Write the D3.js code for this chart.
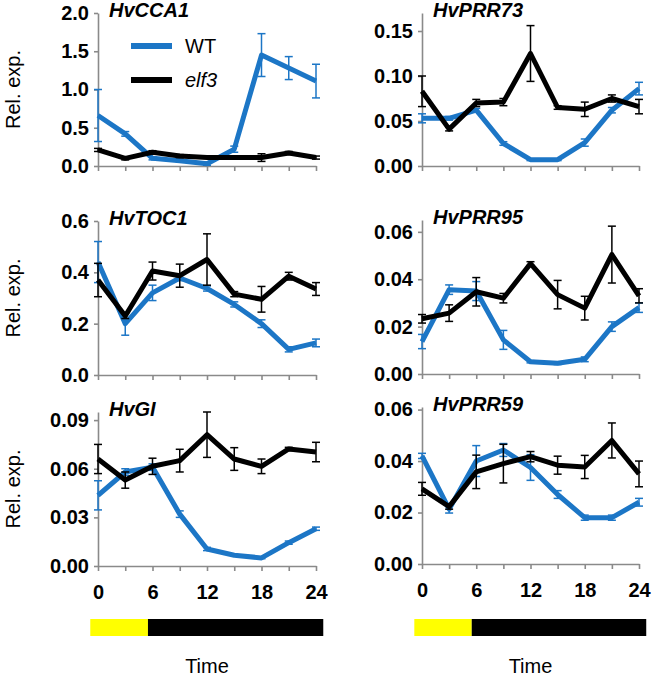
<!DOCTYPE html>
<html>
<head>
<meta charset="utf-8">
<script src="https://cdn.jsdelivr.net/npm/d3@7/dist/d3.min.js"></script>
<style>
  body { margin: 0; background: #fff; }
  text { font-family: "Liberation Sans", Arial, sans-serif; }
</style>
</head>
<body>
<div id="chart"></div>
<script>
// sampling times (h)
var hours = [0, 3, 6, 9, 12, 15, 18, 21, 24];
var hourLabels = [0, 6, 12, 18, 24];
var seriesNames = ["WT", "elf3"];

// light / dark phases (h)
var phaseStart = [-0.85, 5.5];
var phaseEnd = [5.5, 24.8];
var phaseNames = ["light", "dark"];

// HvCCA1
var cca1WT = [0.66, 0.42, 0.10, 0.07, 0.03, 0.22, 1.45, 1.28, 1.11];
var cca1WTErr = [0.34, 0.03, 0.02, 0.02, 0.02, 0.04, 0.28, 0.15, 0.22];
var cca1Elf3 = [0.21, 0.10, 0.18, 0.13, 0.11, 0.11, 0.11, 0.17, 0.11];
var cca1Elf3Err = [0.02, 0.02, 0.02, 0.02, 0.01, 0.01, 0.05, 0.02, 0.02];
var cca1Ticks = [0, 0.5, 1.0, 1.5, 2.0];

// HvPRR73
var prr73WT = [0.053, 0.053, 0.062, 0.025, 0.007, 0.007, 0.026, 0.062, 0.086];
var prr73WTErr = [0.005, 0.002, 0.002, 0.002, 0.001, 0.001, 0.004, 0.003, 0.007];
var prr73Elf3 = [0.083, 0.041, 0.070, 0.071, 0.125, 0.065, 0.063, 0.075, 0.066];
var prr73Elf3Err = [0.017, 0.002, 0.004, 0.004, 0.031, 0.002, 0.008, 0.004, 0.008];
var prr73Ticks = [0, 0.05, 0.10, 0.15];

// HvTOC1
var toc1WT = [0.44, 0.20, 0.32, 0.378, 0.337, 0.275, 0.20, 0.10, 0.125];
var toc1WTErr = [0.08, 0.045, 0.03, 0.01, 0.01, 0.01, 0.015, 0.01, 0.015];
var toc1Elf3 = [0.37, 0.23, 0.405, 0.387, 0.45, 0.315, 0.295, 0.385, 0.335];
var toc1Elf3Err = [0.065, 0.01, 0.035, 0.045, 0.10, 0.01, 0.05, 0.015, 0.025];
var toc1Ticks = [0, 0.2, 0.4, 0.6];

// HvPRR95
var prr95WT = [0.0137, 0.0356, 0.035, 0.0144, 0.0052, 0.0045, 0.0062, 0.020, 0.028];
var prr95WTErr = [0.003, 0.002, 0.004, 0.004, 0.0005, 0.0005, 0.001, 0.002, 0.002];
var prr95Elf3 = [0.0233, 0.0257, 0.0347, 0.032, 0.0466, 0.0335, 0.0278, 0.0504, 0.033];
var prr95Elf3Err = [0.0018, 0.0035, 0.006, 0.002, 0.0008, 0.006, 0.005, 0.012, 0.003];
var prr95Ticks = [0, 0.02, 0.04, 0.06];

// HvGI
var giWT = [0.0436, 0.058, 0.061, 0.032, 0.0105, 0.0066, 0.005, 0.0144, 0.023];
var giWTErr = [0.009, 0.002, 0.002, 0.002, 0.001, 0.0005, 0.0005, 0.001, 0.001];
var giElf3 = [0.066, 0.053, 0.0615, 0.065, 0.081, 0.066, 0.0615, 0.0722, 0.0703];
var giElf3Err = [0.009, 0.005, 0.005, 0.007, 0.014, 0.007, 0.0045, 0.001, 0.006];
var giTicks = [0, 0.03, 0.06, 0.09];

// HvPRR59
var prr59WT = [0.042, 0.0213, 0.040, 0.0443, 0.0375, 0.027, 0.018, 0.018, 0.024];
var prr59WTErr = [0.001, 0.0015, 0.006, 0.0025, 0.005, 0.0015, 0.001, 0.001, 0.0015];
var prr59Elf3 = [0.0292, 0.0223, 0.0358, 0.039, 0.0417, 0.0384, 0.0377, 0.048, 0.035];
var prr59Elf3Err = [0.0025, 0.001, 0.0065, 0.0075, 0.002, 0.0035, 0.0045, 0.0068, 0.005];
var prr59Ticks = [0, 0.02, 0.04, 0.06];

// panel setup: data + where each one sits on the page
var panels = [
  { gene: "HvCCA1", wt: cca1WT, wtErr: cca1WTErr, elf3: cca1Elf3, elf3Err: cca1Elf3Err,
    ticks: cca1Ticks, yMax: 2.0, fmt: ".1f", x0: 98, x1: 316, top: 13, bottom: 166, legend: true },
  { gene: "HvPRR73", wt: prr73WT, wtErr: prr73WTErr, elf3: prr73Elf3, elf3Err: prr73Elf3Err,
    ticks: prr73Ticks, yMax: 0.17, fmt: ".2f", x0: 422, x1: 639, top: 13, bottom: 166 },
  { gene: "HvTOC1", wt: toc1WT, wtErr: toc1WTErr, elf3: toc1Elf3, elf3Err: toc1Elf3Err,
    ticks: toc1Ticks, yMax: 0.6, fmt: ".1f", x0: 98, x1: 316, top: 221, bottom: 375 },
  { gene: "HvPRR95", wt: prr95WT, wtErr: prr95WTErr, elf3: prr95Elf3, elf3Err: prr95Elf3Err,
    ticks: prr95Ticks, yMax: 0.065, fmt: ".2f", x0: 422, x1: 639, top: 220, bottom: 374 },
  { gene: "HvGI", wt: giWT, wtErr: giWTErr, elf3: giElf3, elf3Err: giElf3Err,
    ticks: giTicks, yMax: 0.095, fmt: ".2f", x0: 98, x1: 316, top: 412, bottom: 566, xLabels: true },
  { gene: "HvPRR59", wt: prr59WT, wtErr: prr59WTErr, elf3: prr59Elf3, elf3Err: prr59Elf3Err,
    ticks: prr59Ticks, yMax: 0.061, fmt: ".2f", x0: 422, x1: 639, top: 407, bottom: 564, xLabels: true }
];

var colors = { WT: "#1c76c6", elf3: "#000000" };
var phaseColors = { light: "#ffff00", dark: "#000000" };
var axisColor = "#8a8a8a";

var svgWidth = 652;
var svgHeight = 679;

var svg = d3.select("#chart")
  .append("svg")
  .attr("width", svgWidth)
  .attr("height", svgHeight);

panels.forEach(function (p, i) {
  var g = svg.append("g");

  var xScale = d3.scaleLinear()
    .domain([0, 24])
    .range([p.x0, p.x1]);

  var yScale = d3.scaleLinear()
    .domain([0, p.yMax])
    .range([p.bottom, p.top]);

  // x axis: ticks every 3 h, labels only on the bottom row
  var xAxis = d3.axisBottom(xScale)
    .tickValues(hours)
    .tickSize(5)
    .tickSizeOuter(0)
    .tickPadding(14)
    .tickFormat(function (d) {
      return (p.xLabels && hourLabels.indexOf(d) >= 0) ? d : "";
    });

  var yAxis = d3.axisLeft(yScale)
    .tickValues(p.ticks)
    .tickSize(4)
    .tickSizeOuter(0)
    .tickPadding(5)
    .tickFormat(d3.format(p.fmt));

  var xg = g.append("g")
    .attr("transform", `translate(0, ${p.bottom})`)
    .call(xAxis);

  var yg = g.append("g")
    .attr("transform", `translate(${p.x0}, 0)`)
    .call(yAxis);

  [xg, yg].forEach(function (ax) {
    ax.select(".domain").attr("stroke", axisColor).attr("stroke-width", 1.6);
    ax.selectAll(".tick line").attr("stroke", axisColor).attr("stroke-width", 1.6);
    ax.selectAll(".tick text")
      .attr("fill", "#000")
      .style("font-size", "20px")
      .style("font-weight", "bold");
  });

  // y label on the left column only
  if (p.x0 < 200) {
    g.append("text")
      .attr("transform", `translate(20, ${(p.top + p.bottom) / 2}) rotate(-90)`)
      .attr("text-anchor", "middle")
      .style("font-size", "20px")
      .text("Rel. exp.");
  }

  // gene name
  g.append("text")
    .attr("x", p.x0 + 11)
    .attr("y", p.top + 4)
    .style("font-size", "20px")
    .style("font-weight", "bold")
    .style("font-style", "italic")
    .text(p.gene);

  var line = d3.line()
    .x((d, j) => xScale(hours[j]))
    .y(d => yScale(d));

  var series = [
    { name: "WT", values: p.wt, err: p.wtErr },
    { name: "elf3", values: p.elf3, err: p.elf3Err }
  ];

  series.forEach(function (s) {
    var pts = s.values.map(function (v, j) {
      return { t: hours[j], v: v, e: s.err[j] };
    });

    // error bars
    var eb = g.append("g")
      .attr("stroke", colors[s.name])
      .attr("stroke-width", 1.5);

    eb.selectAll("line.bar")
      .data(pts)
      .enter()
      .append("line")
      .attr("class", "bar")
      .attr("x1", d => xScale(d.t))
      .attr("x2", d => xScale(d.t))
      .attr("y1", d => yScale(d.v - d.e))
      .attr("y2", d => yScale(d.v + d.e));

    [-1, 1].forEach(function (sign) {
      eb.selectAll("line.cap" + (sign > 0 ? "hi" : "lo"))
        .data(pts)
        .enter()
        .append("line")
        .attr("x1", d => xScale(d.t) - 4)
        .attr("x2", d => xScale(d.t) + 4)
        .attr("y1", d => yScale(d.v + sign * d.e))
        .attr("y2", d => yScale(d.v + sign * d.e));
    });

    g.append("path")
      .datum(s.values)
      .attr("d", line)
      .attr("fill", "none")
      .attr("stroke", colors[s.name])
      .attr("stroke-width", 5)
      .attr("stroke-linejoin", "round");
  });

  // legend in the first panel
  if (p.legend) {
    seriesNames.forEach(function (name, k) {
      var ly = p.top + 33 + k * 34;
      g.append("line")
        .attr("x1", p.x0 + 33)
        .attr("x2", p.x0 + 74)
        .attr("y1", ly)
        .attr("y2", ly)
        .attr("stroke", colors[name])
        .attr("stroke-width", 6);
      g.append("text")
        .attr("x", p.x0 + 87)
        .attr("y", ly + 7)
        .style("font-size", "20px")
        .style("font-style", name === "elf3" ? "italic" : "normal")
        .text(name);
    });
  }

  // light/dark bar and "Time" under the bottom row
  if (p.xLabels) {
    g.selectAll("rect.phase")
      .data(phaseNames)
      .enter()
      .append("rect")
      .attr("class", "phase")
      .attr("x", (d, k) => xScale(phaseStart[k]))
      .attr("width", (d, k) => xScale(phaseEnd[k]) - xScale(phaseStart[k]))
      .attr("y", 619)
      .attr("height", 17)
      .attr("fill", d => phaseColors[d]);

    g.append("text")
      .attr("x", (p.x0 + p.x1) / 2)
      .attr("y", 673)
      .attr("text-anchor", "middle")
      .style("font-size", "20px")
      .text("Time");
  }
});
</script>
</body>
</html>
